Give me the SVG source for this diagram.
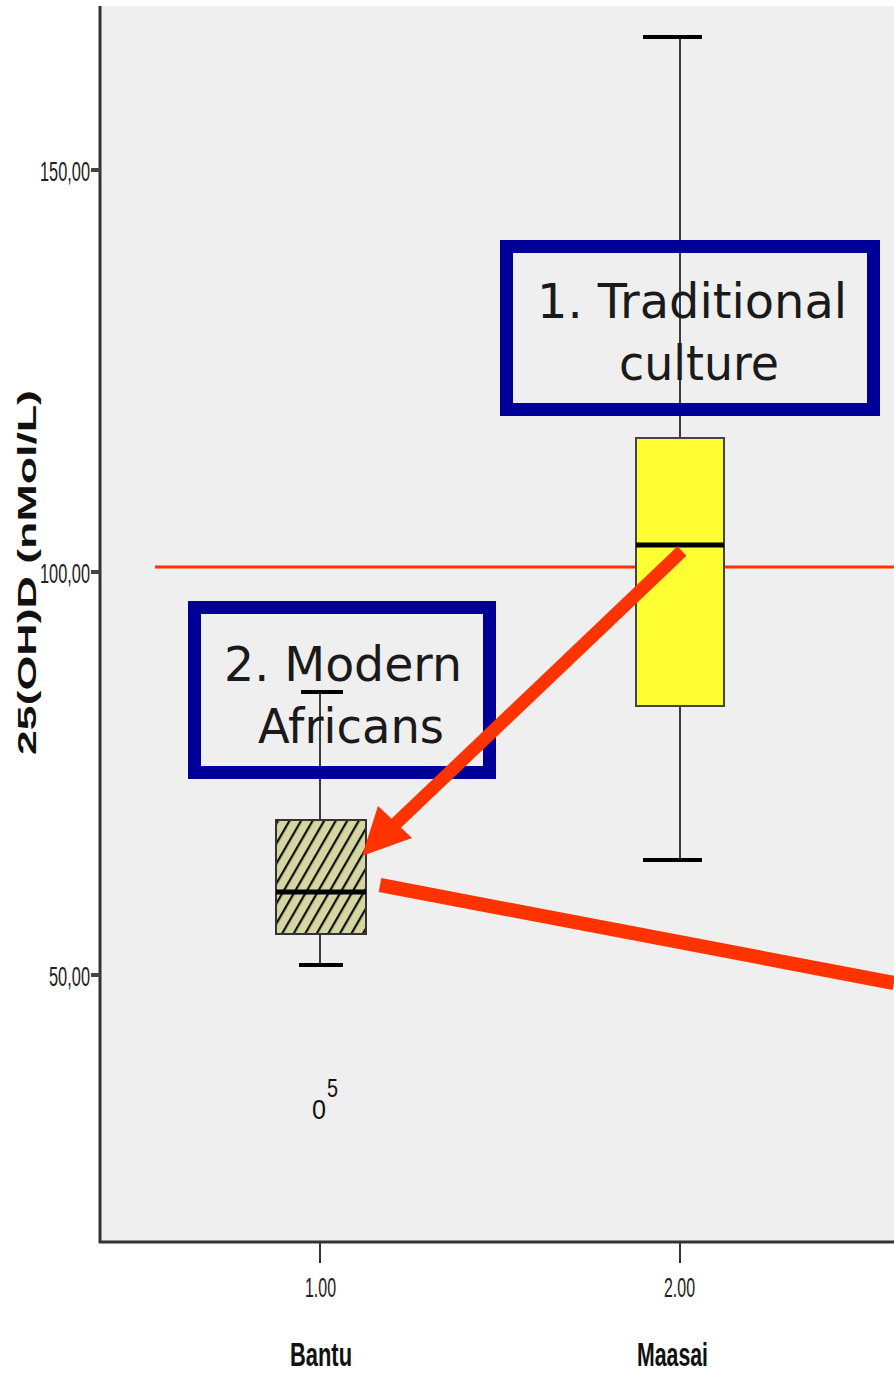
<svg xmlns="http://www.w3.org/2000/svg" width="894" height="1373" viewBox="0 0 894 1373">
<defs>
<style>
.tick{font-family:"Liberation Sans",Arial,sans-serif;font-size:27px;fill:#222}
.cat{font-family:"Liberation Sans",Arial,sans-serif;font-size:33px;font-weight:bold;fill:#111}
.note{font-family:"DejaVu Sans",Verdana,sans-serif;font-size:48px;fill:#1a1a1a}
.blue{fill:none;stroke:#000099;stroke-width:13}
.red{stroke:#ff3300;fill:none}
.wh{stroke:#000;stroke-width:1.5}
.cap{stroke:#000;stroke-width:4}
</style>
<pattern id="hatch" width="10" height="10" patternUnits="userSpaceOnUse" patternTransform="rotate(30)">
<rect width="10" height="10" fill="#d6d6a2"/>
<line x1="0" y1="0" x2="0" y2="10" stroke="#111" stroke-width="4.5"/>
</pattern>
</defs>
<rect width="894" height="1373" fill="#fff"/>
<rect x="101" y="6" width="793" height="1235" fill="#efefef"/>
<g id="axes">
<line x1="100" y1="6" x2="100" y2="1243" stroke="#333" stroke-width="3"/>
<line x1="99" y1="1242" x2="894" y2="1242" stroke="#333" stroke-width="3"/>
<line x1="91" y1="170" x2="100" y2="170" stroke="#444" stroke-width="4"/>
<line x1="91" y1="572" x2="100" y2="572" stroke="#444" stroke-width="4"/>
<line x1="91" y1="975" x2="100" y2="975" stroke="#444" stroke-width="4"/>
<line x1="320" y1="1242" x2="320" y2="1263" stroke="#333" stroke-width="2"/>
<line x1="680" y1="1242" x2="680" y2="1263" stroke="#333" stroke-width="2"/>
<text class="tick" x="90" y="181" text-anchor="end" textLength="50" lengthAdjust="spacingAndGlyphs">150,00</text>
<text class="tick" x="90" y="583" text-anchor="end" textLength="50" lengthAdjust="spacingAndGlyphs">100,00</text>
<text class="tick" x="90" y="986" text-anchor="end" textLength="41" lengthAdjust="spacingAndGlyphs">50,00</text>
<text class="tick" x="305" y="1297" textLength="31" lengthAdjust="spacingAndGlyphs">1.00</text>
<text class="tick" x="664" y="1297" textLength="31" lengthAdjust="spacingAndGlyphs">2.00</text>
<text class="cat" x="290" y="1366" textLength="62" lengthAdjust="spacingAndGlyphs">Bantu</text>
<text class="cat" x="637" y="1366" textLength="71" lengthAdjust="spacingAndGlyphs">Maasai</text>
<text transform="translate(36,755) rotate(-90)" font-family="Liberation Sans,Arial,sans-serif" font-weight="bold" font-size="25" fill="#111" textLength="365" lengthAdjust="spacingAndGlyphs">25(OH)D (nMol/L)</text>
</g>
<g id="refline">
<line class="red" x1="155" y1="567" x2="894" y2="567" stroke-width="3"/>
</g>
<g id="maasai">
<line class="wh" x1="680" y1="37" x2="680" y2="438"/>
<line class="wh" x1="680" y1="706" x2="680" y2="860"/>
<line class="cap" x1="643" y1="37" x2="702" y2="37"/>
<line class="cap" x1="643" y1="860" x2="702" y2="860"/>
<rect x="636" y="438" width="88" height="268" fill="#ffff33" stroke="#444" stroke-width="2"/>
<line x1="636" y1="545" x2="724" y2="545" stroke="#000" stroke-width="5"/>
</g>
<g id="bantu">
<line class="wh" x1="320" y1="692" x2="320" y2="820"/>
<line class="wh" x1="320" y1="934" x2="320" y2="965"/>
<line class="cap" x1="301" y1="692" x2="343" y2="692"/>
<line class="cap" x1="299" y1="965" x2="343" y2="965"/>
<rect x="276" y="820" width="90" height="114" fill="url(#hatch)" stroke="#333" stroke-width="2"/>
<line x1="276" y1="892" x2="366" y2="892" stroke="#000" stroke-width="5"/>
<text x="312" y="1119" font-family="Liberation Sans,Arial,sans-serif" font-size="28" fill="#111" textLength="14" lengthAdjust="spacingAndGlyphs">0</text>
<text x="327" y="1097" font-family="Liberation Sans,Arial,sans-serif" font-size="26" fill="#111" textLength="11" lengthAdjust="spacingAndGlyphs">5</text>
</g>
<g id="label1">
<rect class="blue" x="506.5" y="246.5" width="367" height="163"/>
<text class="note" x="692" y="318" text-anchor="middle" textLength="310" lengthAdjust="spacingAndGlyphs">1. Traditional</text>
<text class="note" x="699" y="380" text-anchor="middle" textLength="160" lengthAdjust="spacingAndGlyphs">culture</text>
</g>
<g id="label2">
<rect class="blue" x="194.5" y="607.5" width="295" height="165"/>
<text class="note" x="343" y="681" text-anchor="middle" textLength="238" lengthAdjust="spacingAndGlyphs">2. Modern</text>
<text class="note" x="351" y="743" text-anchor="middle" textLength="186" lengthAdjust="spacingAndGlyphs">Africans</text>
</g>
<g id="connectors">
<line class="red" x1="682" y1="551" x2="388" y2="831" stroke-width="13"/>
<polygon points="362,856 378,806 412,838" fill="#ff3300"/>
<line class="red" x1="380" y1="885" x2="894" y2="983" stroke-width="14"/>
</g>
</svg>
